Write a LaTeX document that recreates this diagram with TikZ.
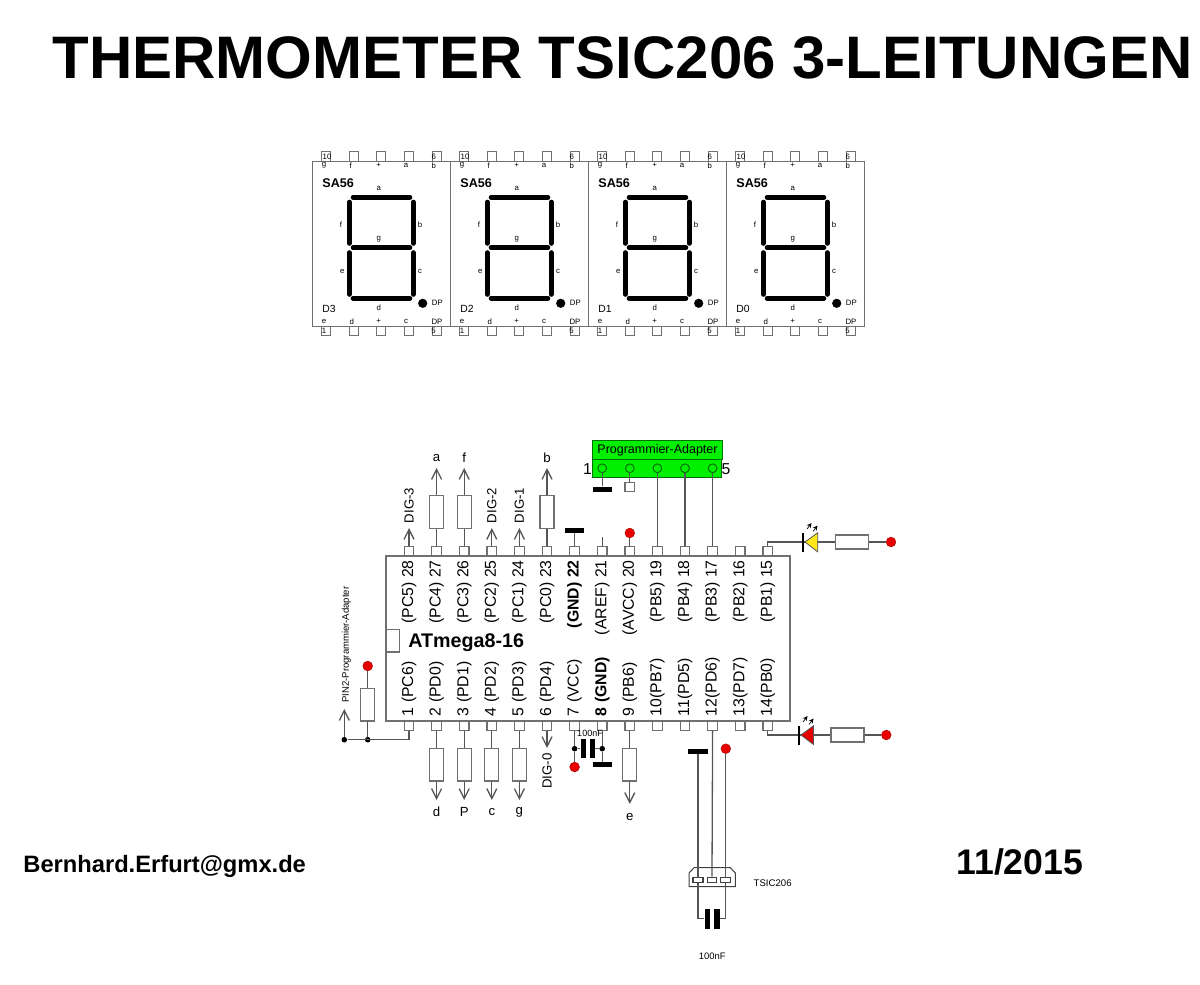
\documentclass[tikz,border=0pt]{standalone}
\usepackage{fontspec}
\setmainfont{Liberation Sans}
\usetikzlibrary{arrows.meta}

\definecolor{wirecol}{HTML}{555555}
\definecolor{boxcol}{HTML}{707070}
\definecolor{adaptgreen}{HTML}{00F000}
\definecolor{adaptedge}{HTML}{007000}
\definecolor{dotred}{HTML}{E80000}
\definecolor{ledyellow}{HTML}{FFE81A}

\newcommand{\fs}[1]{\fontsize{#1}{#1}\selectfont}

\tikzset{
  wire/.style={draw=wirecol, line width=0.65pt},
  outline/.style={draw=boxcol, line width=0.7pt},
  arrowwire/.style={wire, -{Straight Barb[length=5pt,width=5pt]}},
  pinbox/.style={rectangle, draw=boxcol, line width=0.55pt, fill=white, minimum width=4.8pt, minimum height=4.6pt, inner sep=0pt},
  resbox/.style={rectangle, draw=boxcol, line width=0.65pt, fill=white, minimum width=7pt, minimum height=16.4pt, inner sep=0pt},
  hresbox/.style={resbox, minimum width=16.4pt, minimum height=7pt},
  gndbar/.style={rectangle, fill=black, minimum width=9.6pt, minimum height=2.5pt, inner sep=0pt},
  capplate/.style={rectangle, fill=black, minimum width=2.6pt, minimum height=9.6pt, inner sep=0pt},
  reddot/.style={circle, fill=dotred, draw=dotred!70!black, line width=0.2pt, minimum size=4.9pt, inner sep=0pt},
  joint/.style={circle, fill=black, minimum size=2.8pt, inner sep=0pt},
  adaptpin/.style={circle, draw=adaptedge, line width=0.5pt, fill=adaptgreen, minimum size=4.4pt, inner sep=0pt},
  pintext/.style={inner sep=0pt, font=\fs{7.9}},
  sigtext/.style={inner sep=0pt, font=\fs{6.6}},
  tinytext/.style={inner sep=0pt, font=\fs{3.9}},
  segment/.style={line width=2.3pt, line cap=round},
}

\begin{document}
\begin{tikzpicture}[x=0.5pt, y=-0.5pt]
  \useasboundingbox (0,0) rectangle (1200,985);

  % Headline and footer
  \node[inner sep=0pt, anchor=west, font=\fs{30}\bfseries] (title) at (52,58) {THERMOMETER TSIC206 3-LEITUNGEN};
  \node[inner sep=0pt, anchor=west, font=\fs{11.85}\bfseries] (mail) at (23,866) {Bernhard.Erfurt@gmx.de};
  \node[inner sep=0pt, anchor=west, font=\fs{17.8}\bfseries] (date) at (956,862) {11/2015};

  % The four displays
  \foreach \k/\dname in {0/D3,1/D2,2/D1,3/D0} {
    \begin{scope}[xshift=\k*69pt]
      \foreach \px [count=\i] in {14,42,69,97,125} {
        \node[pinbox] (dt\k-\i) at (312+\px,156.5) {};
        \node[pinbox] (db\k-\i) at (312+\px,330.5) {};
      }
      \draw[outline, line width=0.5pt, fill=white] (312,161) rectangle (450,326);
      \node[tinytext] (dn\k-a) at (327,156.5) {10};
      \node[tinytext] (dn\k-b) at (433.7,156.5) {6};
      \node[tinytext] (dn\k-c) at (324,330.5) {1};
      \node[tinytext] (dn\k-d) at (433.5,330.5) {5};
      \foreach \px/\tx [count=\i] in {324/g,350.7/f,378.7/+,406/a,433.7/b} {
        \node[tinytext] (dg\k-\i) at (\px,165.7) {\tx};
      }
      \foreach \px/\tx [count=\i] in {324/e,351.7/d,378.7/+,406/c,437/DP} {
        \node[tinytext] (dh\k-\i) at (\px,321.5) {\tx};
      }
      \foreach \px/\py/\tx [count=\i] in {378.7/188.3/a,341/225/f,420/225/b,378.7/239.7/g,342.3/271.7/e,420/271.7/c,378.7/307.7/d,437.3/303.3/DP} {
        \node[tinytext] (ds\k-\i) at (\px,\py) {\tx};
      }
      \node[inner sep=0pt, anchor=west, font=\fs{6.3}\bfseries] (dtype\k) at (322,183) {SA56};
      \node[inner sep=0pt, anchor=west, font=\fs{5.2}] (dname\k) at (322,308.5) {\dname};
      % segments
      \draw[segment] (353,197.3) -- (410,197.3);
      \draw[segment] (353,247.7) -- (410,247.7);
      \draw[segment] (353,298.3) -- (410,298.3);
      \draw[segment] (349.3,202) -- (349.3,243.5);
      \draw[segment] (413.3,202) -- (413.3,243.5);
      \draw[segment] (349.3,252.5) -- (349.3,294.5);
      \draw[segment] (413.3,252.5) -- (413.3,294.5);
      \fill (422.7,303.3) circle (4.6);
    \end{scope}
  }

  % ATmega8 pins, then the body over them
  \foreach \n in {15,...,28} {
    \pgfmathsetmacro\px{409+27.6*(28-\n)}
    \node[pinbox] (t\n) at (\px,551.5) {};
  }
  \foreach \n in {1,...,14} {
    \pgfmathsetmacro\px{409+27.6*(\n-1)}
    \node[pinbox] (b\n) at (\px,725.5) {};
  }
  \draw[outline, fill=white] (386,556) rectangle (790,721);
  \draw[outline, fill=white] (386,629.5) rectangle (399.5,652);
  \node[inner sep=0pt, anchor=west, font=\fs{9.85}\bfseries] (chip) at (408,643) {ATmega8-16};

  \foreach \n/\tx in {28/(PC5) 28,27/(PC4) 27,26/(PC3) 26,25/(PC2) 25,24/(PC1) 24,23/(PC0) 23,22/\textbf{(GND) 22},21/(AREF) 21,20/(AVCC) 20,19/(PB5) 19,18/(PB4) 18,17/(PB3) 17,16/(PB2) 16,15/(PB1) 15} {
    \node[pintext, rotate=90, anchor=east] (tl\n) at (t\n |- 0,560) {\tx};
  }
  \foreach \n/\tx in {1/1 (PC6),2/2 (PD0),3/3 (PD1),4/4 (PD2),5/5 (PD3),6/6 (PD4),7/7 (VCC),8/\textbf{8 (GND)},9/9 (PB6),10/10(PB7),11/11(PD5),12/12(PD6),13/13(PD7),14/14(PB0)} {
    \node[pintext, rotate=90, anchor=west] (bl\n) at (b\n |- 0,716.5) {\tx};
  }

  % Upper pins: arrows with a signal name
  \foreach \n/\tx in {28/DIG-3,25/DIG-2,24/DIG-1} {
    \coordinate (tip\n) at (t\n |- 0,528);
    \draw[arrowwire] (t\n.north) -- (tip\n);
    \node[sigtext, rotate=90, anchor=west] (sig\n) at (t\n |- 0,523.5) {\tx};
  }
  % Upper pins: series resistor, arrow, letter
  \foreach \n/\tx in {27/a,26/f,23/b} {
    \node[resbox] (r\n) at (t\n |- 0,512) {};
    \coordinate (tip\n) at (t\n |- 0,468);
    \draw[wire] (t\n.north) -- (r\n.south);
    \draw[arrowwire] (r\n.north) -- (tip\n);
    \node[sigtext] (sig\n) at (t\n |- 0,458) {\tx};
  }
  \node[gndbar] (gnd22) at (t22 |- 0,530.5) {};
  \draw[wire] (t22.north) -- (gnd22.south);
  \coordinate (end21) at (t21 |- 0,537);
  \draw[wire] (t21.north) -- (end21);
  \node[reddot] (vcc20) at (t20 |- 0,533) {};
  \draw[wire] (t20.north) -- (vcc20.south);

  % Programming adapter
  \draw[draw=adaptedge, line width=0.5pt, fill=adaptgreen] (592.3,459) rectangle (721,477.7);
  \node[rectangle, draw=adaptedge, line width=0.5pt, fill=adaptgreen, minimum width=65pt, minimum height=9.2pt, inner sep=0pt, font=\fs{6.25}] (adapter) at (657.5,450) {Programmier-Adapter};
  \foreach \n [count=\i] in {22,21,20,19,18,17} {
    \ifnum\i>1
      \pgfmathtruncatemacro\j{\i-1}
      \node[adaptpin] (ap\j) at (t\n |- 0,468.3) {};
    \fi
  }
  \node[pintext] (ap1txt) at (587.5,469) {1};
  \node[pintext] (ap5txt) at (726,469) {5};
  \draw[wire] (t19.north) -- (ap3.south);
  \draw[wire] (t18.north) -- (ap4.south);
  \draw[wire] (t17.north) -- (ap5.south);
  \node[gndbar] (gndap) at (ap1 |- 0,489) {};
  \draw[wire] (ap1.south) -- (gndap.north);
  \node[pinbox, minimum height=4.8pt] (ap2end) at (ap2 |- 0,487) {};
  \draw[wire] (ap2.south) -- (ap2end.north);

  % LEDs
  \node[hresbox] (rled1) at (852.2,542) {};
  \node[reddot] (vled1) at (891,542) {};
  \draw[wire] (t15.north) |- (803.3,542) -- (rled1.west);
  \draw[wire] (rled1.east) -- (vled1.west);
  \draw[draw=wirecol, line width=0.4pt, fill=ledyellow] (817.7,532.8) -- (817.7,551.8) -- (805,542) -- cycle;
  \draw[black, line width=0.9pt] (803.3,532.5) -- (803.3,551.7);
  \node[hresbox] (rled2) at (847.5,735) {};
  \node[reddot] (vled2) at (886.3,735) {};
  \draw[wire] (b14.south) |- (799.3,735) -- (rled2.west);
  \draw[wire] (rled2.east) -- (vled2.west);
  \draw[draw=wirecol, line width=0.4pt, fill=red!90!black] (813.5,725.8) -- (813.5,744.5) -- (801,735) -- cycle;
  \draw[black, line width=0.9pt] (799.3,725.5) -- (799.3,744.5);
  \foreach \ax/\ay in {809/521,815/523.5,805/714,811/716.5} {
    \draw[black, line width=0.35pt, -{Stealth[length=2.4pt,width=2.4pt]}] (\ax-2,\ay+8) -- (\ax+2.5,\ay+2);
  }

  % Pin 1 with pull-up and adapter arrow
  \node[joint] (jl) at (344.3,739.7) {};
  \node[joint] (jr) at (367.7,739.7) {};
  \node[resbox] (r1) at (367.7,704.6) {};
  \node[reddot] (vcc1) at (367.7,666) {};
  \coordinate (tip1) at (344.3,709);
  \draw[wire] (b1.south) |- (jr.east) -- (jl.east);
  \draw[wire] (jr.north) -- (r1.south);
  \draw[wire] (r1.north) -- (vcc1.south);
  \draw[arrowwire] (jl.north) -- (tip1);
  \node[inner sep=0pt, rotate=90, anchor=west, font=\fs{4.76}] (pin2txt) at (346.5,703) {PIN2-Programmier-Adapter};

  % Lower pins: series resistor, arrow, letter
  \foreach \n/\tx/\ty/\ly in {2/d/800/812,3/P/800/812,4/c/800/812,5/g/800/812,9/e/804/816.7} {
    \node[resbox] (r\n) at (b\n |- 0,764.6) {};
    \coordinate (tip\n) at (b\n |- 0,\ty);
    \draw[wire] (b\n.south) -- (r\n.north);
    \draw[arrowwire] (r\n.south) -- (tip\n);
    \node[sigtext] (sig\n) at (b\n |- 0,\ly) {\tx};
  }
  \coordinate (tip6) at (b6 |- 0,748);
  \draw[arrowwire] (b6.south) -- (tip6);
  \node[sigtext, rotate=90, anchor=east] (sig6) at (b6 |- 0,753) {DIG-0};

  % Decoupling at pins 7 and 8
  \node[joint] (jc7) at (b7 |- 0,748.7) {};
  \node[joint] (jc8) at (b8 |- 0,748.7) {};
  \node[capplate] (cap1) at (583.3,748.7) {};
  \node[capplate] (cap2) at (592.3,748.7) {};
  \node[reddot] (vcc7) at (b7 |- 0,767) {};
  \node[gndbar] (gnd8) at (b8 |- 0,764.7) {};
  \draw[wire] (b7.south) -- (jc7.north);
  \draw[wire] (jc7.south) -- (vcc7.north);
  \draw[wire] (b8.south) -- (jc8.north);
  \draw[wire] (jc8.south) -- (gnd8.north);
  \draw[wire] (jc7.east) -- (cap1.west);
  \draw[wire] (cap2.east) -- (jc8.west);
  \node[inner sep=0pt, font=\fs{4.5}] (captxt) at (590,733) {100nF};

  % Sensor
  \draw[draw=black!75, line width=0.5pt] (689,886.7) -- (689,873) -- (694,867.7) -- (730.3,867.7) -- (735.3,873) -- (735.3,886.7) -- cycle;
  \node[pinbox, minimum width=5pt, minimum height=2.6pt, draw=black!75] (sp1) at (698,879.8) {};
  \node[pinbox, minimum width=4.4pt, minimum height=2.6pt, draw=black!75] (sp2) at (712,879.8) {};
  \node[pinbox, minimum width=5pt, minimum height=2.6pt, draw=black!75] (sp3) at (725.8,879.8) {};
  \node[gndbar] (gnds) at (698,751) {};
  \node[reddot] (vccs) at (725.8,748.7) {};
  \draw[wire] (gnds.south) -- (sp1.north);
  \draw[wire] (b12.south) -- (sp2.north);
  \draw[wire] (vccs.south) -- (sp3.north);
  \node[capplate, minimum height=9.8pt, minimum width=2.8pt] (scap1) at (707.5,918.7) {};
  \node[capplate, minimum height=9.8pt, minimum width=2.8pt] (scap2) at (716.7,918.7) {};
  \draw[wire] (sp1.south) |- (scap1.west);
  \draw[wire] (sp3.south) |- (scap2.east);
  \node[inner sep=0pt, anchor=west, font=\fs{4.8}] (sensortxt) at (753.3,882.7) {TSIC206};
  \node[inner sep=0pt, font=\fs{4.7}] (scaptxt) at (712.3,956.7) {100nF};
\end{tikzpicture}
\end{document}
